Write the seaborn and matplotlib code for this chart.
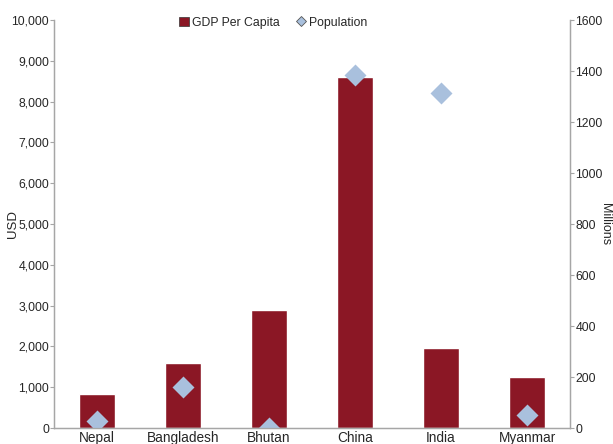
import matplotlib
matplotlib.use("Agg")
import matplotlib.pyplot as plt
import seaborn as sns
from matplotlib.patches import Patch
from matplotlib.lines import Line2D
from matplotlib.ticker import FuncFormatter, MultipleLocator

# data
countries = ["Nepal", "Bangladesh", "Bhutan", "China", "India", "Myanmar"]
gdp_per_capita = [830, 1600, 2900, 8610, 1960, 1250]
population = [28, 161, 1, 1384, 1314, 52]

bar_color = "#8B1725"
dot_color = "#A9C0DD"
grey = "#A6A6A6"

sns.set_style("white")
plt.rcParams["font.family"] = ["Liberation Sans", "DejaVu Sans"]

fig = plt.figure(figsize=(6.13, 4.44), dpi=100)
ax = fig.add_axes([54 / 613, 1 - 428 / 444, (570 - 54) / 613, (428 - 20) / 444])

sns.barplot(x=countries, y=gdp_per_capita, color=bar_color, width=0.41,
            saturation=1, ax=ax)
ax.set_ylim(0, 10000)
ax.yaxis.set_major_locator(MultipleLocator(1000))
ax.yaxis.set_major_formatter(FuncFormatter(lambda v, p: f"{int(v):,}"))
ax.set_ylabel("USD", fontsize=9.5)
ax.yaxis.set_label_coords(-0.068, 0.5)
ax.set_xlabel("")

ax2 = ax.twinx()
sns.pointplot(x=countries, y=population, color=dot_color, markers="D",
              linestyle="none", markersize=9, ax=ax2)
ax2.set_ylim(0, 1600)
ax2.yaxis.set_major_locator(MultipleLocator(200))
ax2.set_ylabel("Millions", fontsize=9, rotation=-90, va="center")
ax2.yaxis.set_label_coords(1.068, 0.5)
ax2.set_xlim(-0.5, len(countries) - 0.5)
ax.set_xlim(-0.5, len(countries) - 0.5)

# category labels at centres, ticks between categories
ax.set_xticks(range(len(countries)))
ax.set_xticklabels(countries, fontsize=9.8)
ax.tick_params(axis="x", length=0, pad=2)
ax.set_xticks([i + 0.5 for i in range(len(countries) - 1)], minor=True)
ax.tick_params(axis="x", which="minor", length=3, color=grey, direction="out")

for a in (ax, ax2):
    a.spines["top"].set_visible(False)
    for s in ("left", "right", "bottom"):
        a.spines[s].set_color(grey)
        a.spines[s].set_linewidth(0.9)
    a.tick_params(axis="y", labelsize=8.8, length=3, color=grey, direction="out", pad=1)
    a.grid(False)
ax.tick_params(axis="y", left=True, pad=0.5)
ax2.tick_params(axis="y", right=True)

handles = [
    Patch(facecolor=bar_color, edgecolor="#333333", linewidth=0.5, label="GDP Per Capita"),
    Line2D([], [], linestyle="none", marker="D", markersize=5.5,
           markerfacecolor=dot_color, markeredgecolor="#555555",
           markeredgewidth=0.6, label="Population"),
]
ax.legend(handles=handles, loc="upper center", bbox_to_anchor=(0.425, 1.035),
          ncol=2, frameon=False, fontsize=8.8, handlelength=0.8,
          handletextpad=0.3, columnspacing=1.3)

fig.savefig("out.png", dpi=100)
